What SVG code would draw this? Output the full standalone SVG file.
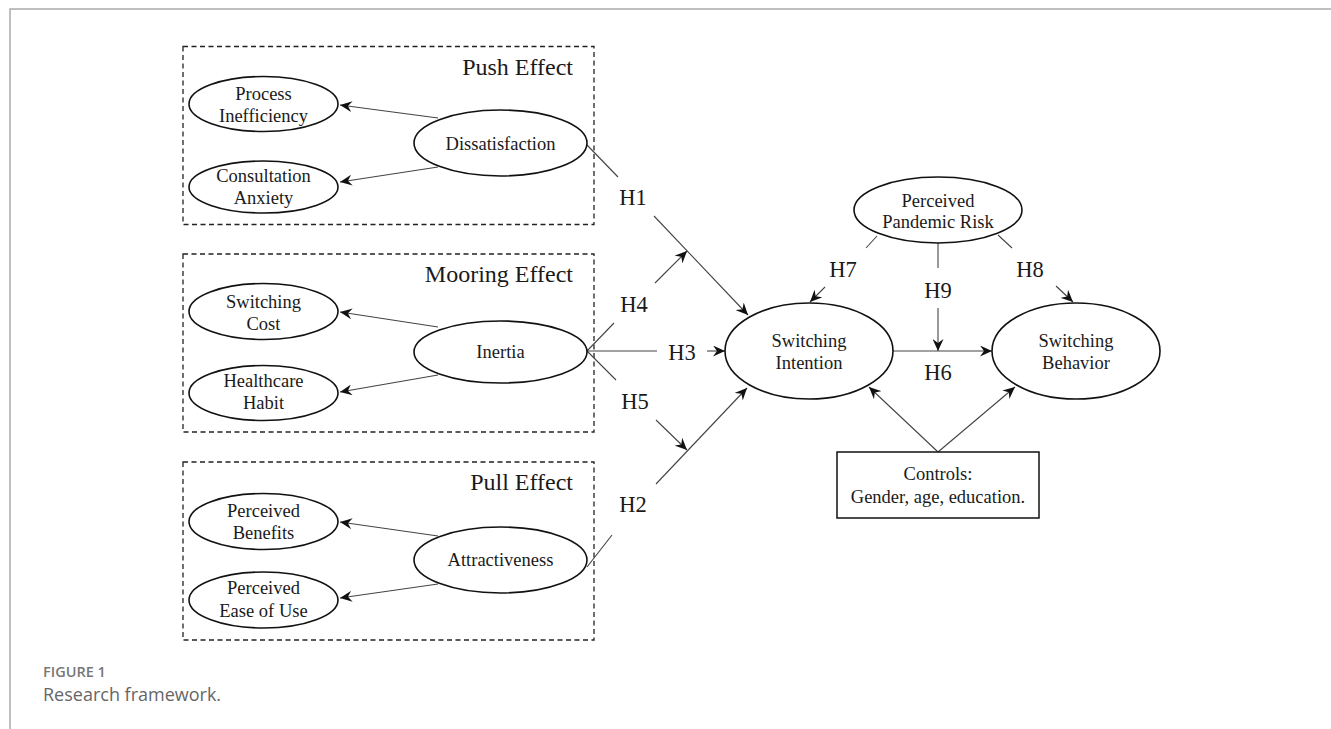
<svg xmlns="http://www.w3.org/2000/svg" width="1331" height="729" viewBox="0 0 1331 729">
<defs>
<marker id="ah" markerWidth="13" markerHeight="11" refX="12" refY="5.5" orient="auto" markerUnits="userSpaceOnUse">
<path d="M0,0 L12,5.5 L0,11 L4,5.5 Z" fill="#111"/>
</marker>
</defs>
<style>
.frame{stroke:#aaa;stroke-width:1.5;fill:none}
.box{fill:none;stroke:#222;stroke-width:1.3;stroke-dasharray:5,3.5}
.el{fill:#fff;stroke:#111;stroke-width:1.6}
.t{font-family:"Liberation Serif","Times New Roman",serif;font-size:18.5px;fill:#1a1a1a;text-anchor:middle}
.title{font-family:"Liberation Serif","Times New Roman",serif;font-size:24px;fill:#1a1a1a;text-anchor:end}
.h{font-family:"Liberation Serif","Times New Roman",serif;font-size:22.5px;fill:#1a1a1a;text-anchor:middle}
.c{stroke:#444;stroke-width:1.1;fill:none}
.ca{stroke:#444;stroke-width:1.1;fill:none;marker-end:url(#ah)}
.cap1{font-family:"Open Sans","Noto Sans",sans-serif;font-size:14.5px;font-weight:600;fill:#777}
.cap2{font-family:"Open Sans","Noto Sans",sans-serif;font-size:18px;fill:#666}
</style>
<rect width="1331" height="729" fill="#fff"/>
<path class="frame" d="M10,729 V9 H1331"/>

<g id="push-box">
<rect class="box" x="183" y="46.5" width="411" height="178"/>
<text class="title" x="573" y="75">Push Effect</text>
</g>
<g id="mooring-box">
<rect class="box" x="183" y="254" width="411" height="178"/>
<text class="title" x="573" y="282">Mooring Effect</text>
</g>
<g id="pull-box">
<rect class="box" x="183" y="462" width="411" height="178"/>
<text class="title" x="573" y="490">Pull Effect</text>
</g>

<g id="connectors">
<line class="ca" x1="438" y1="118" x2="340" y2="105"/>
<line class="ca" x1="438" y1="167" x2="340" y2="182"/>
<line class="ca" x1="438" y1="327" x2="340" y2="312"/>
<line class="ca" x1="438" y1="375" x2="340" y2="392"/>
<line class="ca" x1="438" y1="536" x2="340" y2="522"/>
<line class="ca" x1="438" y1="584" x2="340" y2="598"/>
<!-- H1 -->
<line class="c" x1="587" y1="145" x2="618" y2="177"/>
<line class="ca" x1="654" y1="216" x2="748" y2="315"/>
<!-- H4 -->
<line class="c" x1="587" y1="351" x2="614" y2="323"/>
<line class="ca" x1="655" y1="283" x2="687" y2="251"/>
<!-- H3 -->
<line class="c" x1="587" y1="351" x2="657" y2="351"/>
<line class="ca" x1="707" y1="351" x2="725" y2="351"/>
<!-- H5 -->
<line class="c" x1="587" y1="351" x2="616" y2="380"/>
<line class="ca" x1="656" y1="420" x2="687" y2="450"/>
<!-- H2 -->
<line class="c" x1="587" y1="567" x2="612" y2="535"/>
<line class="ca" x1="656" y1="484" x2="747" y2="388"/>
<!-- H7 -->
<line class="c" x1="877" y1="236" x2="866" y2="248"/>
<line class="ca" x1="825" y1="287" x2="810" y2="302"/>
<!-- H8 -->
<line class="c" x1="998" y1="235" x2="1012" y2="248"/>
<line class="ca" x1="1056" y1="286" x2="1073" y2="302"/>
<!-- H9 -->
<line class="c" x1="938" y1="243" x2="938" y2="268"/>
<line class="ca" x1="938" y1="308" x2="938" y2="351"/>
<!-- H6 -->
<line class="ca" x1="893" y1="351" x2="992" y2="351"/>
<!-- Controls -->
<line class="ca" x1="938" y1="452" x2="869" y2="387"/>
<line class="ca" x1="938" y1="452" x2="1015" y2="387"/>
</g>

<g id="labels">
<text class="h" x="633" y="205">H1</text>
<text class="h" x="634" y="312">H4</text>
<text class="h" x="682" y="360">H3</text>
<text class="h" x="635" y="409">H5</text>
<text class="h" x="633" y="512">H2</text>
<text class="h" x="843" y="277">H7</text>
<text class="h" x="1030" y="277">H8</text>
<text class="h" x="938" y="298">H9</text>
<text class="h" x="938" y="380">H6</text>
</g>

<g id="process-inefficiency">
<ellipse class="el" cx="263.5" cy="104" rx="74.5" ry="27.5"/>
<text class="t" x="263.5" y="100">Process</text>
<text class="t" x="263.5" y="122">Inefficiency</text>
</g>
<g id="consultation-anxiety">
<ellipse class="el" cx="263.5" cy="187" rx="74.5" ry="26"/>
<text class="t" x="263.5" y="182">Consultation</text>
<text class="t" x="263.5" y="204">Anxiety</text>
</g>
<g id="dissatisfaction">
<ellipse class="el" cx="500.5" cy="143" rx="86.5" ry="33"/>
<text class="t" x="500.5" y="150">Dissatisfaction</text>
</g>

<g id="switching-cost">
<ellipse class="el" cx="263.5" cy="311.5" rx="74.5" ry="28"/>
<text class="t" x="263.5" y="308">Switching</text>
<text class="t" x="263.5" y="330">Cost</text>
</g>
<g id="healthcare-habit">
<ellipse class="el" cx="263.5" cy="393" rx="74.5" ry="27.5"/>
<text class="t" x="263.5" y="387">Healthcare</text>
<text class="t" x="263.5" y="409">Habit</text>
</g>
<g id="inertia">
<ellipse class="el" cx="500.5" cy="352" rx="86.5" ry="31"/>
<text class="t" x="500.5" y="358">Inertia</text>
</g>

<g id="perceived-benefits">
<ellipse class="el" cx="263.5" cy="521.5" rx="74.5" ry="28"/>
<text class="t" x="263.5" y="517">Perceived</text>
<text class="t" x="263.5" y="539">Benefits</text>
</g>
<g id="perceived-ease-of-use">
<ellipse class="el" cx="263.5" cy="600" rx="74.5" ry="28"/>
<text class="t" x="263.5" y="594">Perceived</text>
<text class="t" x="263.5" y="617">Ease of Use</text>
</g>
<g id="attractiveness">
<ellipse class="el" cx="500.5" cy="560" rx="86.5" ry="33"/>
<text class="t" x="500.5" y="566">Attractiveness</text>
</g>

<g id="perceived-pandemic-risk">
<ellipse class="el" cx="938" cy="210" rx="84" ry="33"/>
<text class="t" x="938" y="207">Perceived</text>
<text class="t" x="938" y="228">Pandemic Risk</text>
</g>
<g id="switching-intention">
<ellipse class="el" cx="809" cy="351" rx="84" ry="48"/>
<text class="t" x="809" y="347">Switching</text>
<text class="t" x="809" y="369">Intention</text>
</g>
<g id="switching-behavior">
<ellipse class="el" cx="1076" cy="351" rx="84" ry="48"/>
<text class="t" x="1076" y="347">Switching</text>
<text class="t" x="1076" y="369">Behavior</text>
</g>
<g id="controls">
<rect x="837" y="452" width="202" height="66" fill="#fff" stroke="#111" stroke-width="1.5"/>
<text class="t" x="938" y="480">Controls:</text>
<text class="t" x="938" y="503">Gender, age, education.</text>
</g>

<g id="caption">
<text class="cap1" x="43" y="677">FIGURE 1</text>
<text class="cap2" x="43" y="701">Research framework.</text>
</g>
</svg>
